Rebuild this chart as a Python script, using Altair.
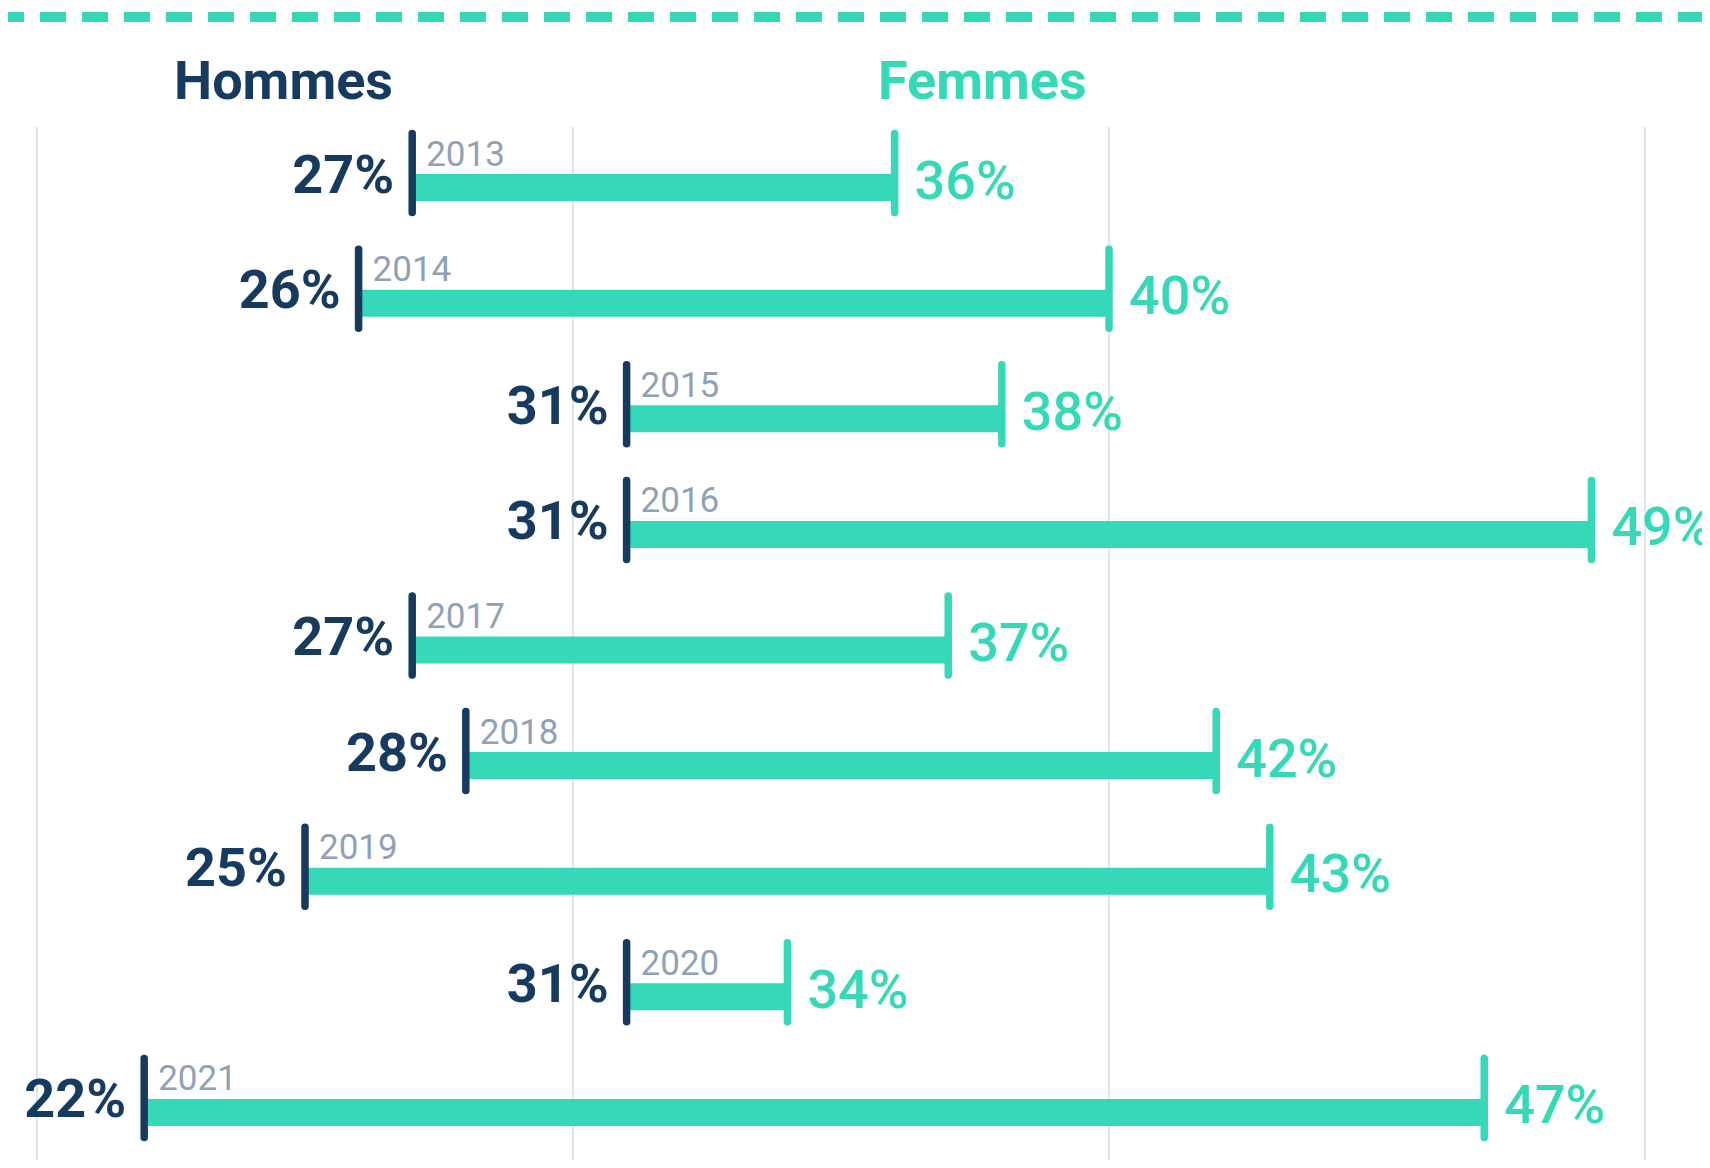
import altair as alt
import pandas as pd

years = ["2013", "2014", "2015", "2016", "2017", "2018", "2019", "2020", "2021"]
hommes = [27, 26, 31, 31, 27, 28, 25, 31, 22]
femmes = [36, 40, 38, 49, 37, 42, 43, 34, 47]
grid_values = [20, 30, 40, 50]

NAVY = "#173b5f"
TEAL = "#35d9b7"
GRAY = "#8fa2b5"
GRID = "#cbd3dc"
FONT = "Roboto"

W, H = 1694, 1152

df = pd.DataFrame({"year": years, "h": hommes, "f": femmes, "row": list(range(len(years)))})
df["hl"] = [f"{v}%" for v in hommes]
df["fl"] = [f"{v}%" for v in femmes]
grid_df = pd.DataFrame({"g": grid_values})

xs = alt.Scale(domain=[19.459, 51.063], nice=False, zero=False)
ys = alt.Scale(domain=[-1.5536, 8.4118], nice=False, zero=False, reverse=True)

base = alt.Chart(df)

grid = alt.Chart(grid_df).mark_rule(color=GRID, strokeWidth=1.2).encode(
    x=alt.X("g:Q", scale=xs, axis=None),
    y=alt.value(119),
    y2=alt.value(H),
)

bars = base.mark_rule(color=TEAL, strokeWidth=27, strokeCap="butt").encode(
    x=alt.X("h:Q", scale=xs, axis=None),
    x2="f:Q",
    y=alt.Y("row:Q", scale=ys, axis=None),
)

fticks = base.mark_rule(color=TEAL, strokeWidth=7.5, strokeCap="round", yOffset=-54, y2Offset=25).encode(
    x=alt.X("f:Q", scale=xs, axis=None),
    y=alt.Y("row:Q", scale=ys, axis=None),
    y2="row:Q",
)

hticks = base.mark_rule(color=NAVY, strokeWidth=7.5, strokeCap="round", yOffset=-54, y2Offset=25).encode(
    x=alt.X("h:Q", scale=xs, axis=None),
    y=alt.Y("row:Q", scale=ys, axis=None),
    y2="row:Q",
)

hlab = base.mark_text(font=FONT, fontSize=54, fontWeight="bold", color=NAVY,
                      align="right", baseline="alphabetic", dx=-18, dy=5).encode(
    x=alt.X("h:Q", scale=xs, axis=None),
    y=alt.Y("row:Q", scale=ys, axis=None),
    text="hl:N",
)

flab = base.mark_text(font=FONT, fontSize=54, fontWeight=500, color=TEAL,
                      align="left", baseline="alphabetic", dx=20, dy=11).encode(
    x=alt.X("f:Q", scale=xs, axis=None),
    y=alt.Y("row:Q", scale=ys, axis=None),
    text="fl:N",
)

ylab = base.mark_text(font=FONT, fontSize=35, fontWeight="normal", color=GRAY,
                      align="left", baseline="alphabetic", dx=14, dy=-22).encode(
    x=alt.X("h:Q", scale=xs, axis=None),
    y=alt.Y("row:Q", scale=ys, axis=None),
    text="year:N",
)

titles_df = pd.DataFrame({"t": ["Hommes", "Femmes"], "c": [NAVY, TEAL], "px": [166, 870]})
titles = alt.Chart(titles_df).mark_text(font=FONT, fontSize=54, fontWeight="bold",
                                        align="left", baseline="alphabetic").encode(
    x=alt.X("px:Q", scale=None),
    y=alt.value(91),
    text="t:N",
    color=alt.Color("c:N", scale=None),
)

dash = alt.Chart(df.head(1)).mark_rule(color=TEAL, strokeWidth=10, strokeDash=[26, 16],
                                       strokeDashOffset=10, strokeCap="butt").encode(
    x=alt.value(0), x2=alt.value(W), y=alt.value(9),
)

chart = alt.layer(grid, bars, fticks, hticks, hlab, flab, ylab, titles, dash).properties(
    width=W, height=H, padding=0,
    autosize=alt.AutoSizeParams(type="none"),
).configure_view(strokeWidth=0, strokeOpacity=0)

chart.save("out.html", embed_options={"renderer": "svg", "actions": False})
